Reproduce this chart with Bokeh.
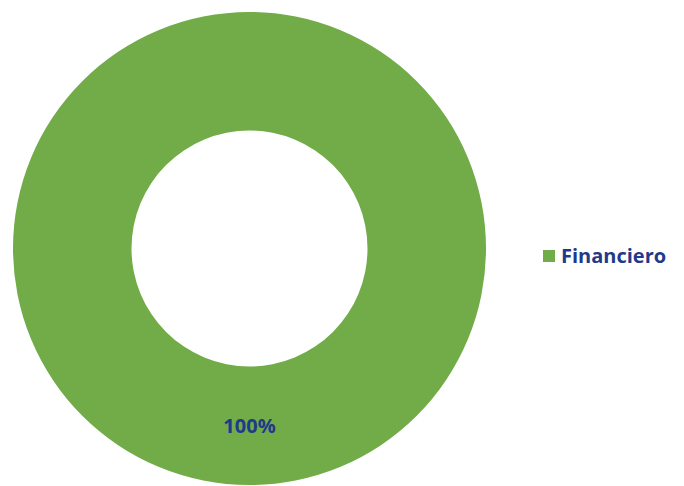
import math
from bokeh.plotting import figure
from bokeh.models import ColumnDataSource, Legend, LegendItem, Range1d
from bokeh.core.properties import value
from bokeh.embed import file_html
from bokeh.resources import INLINE

categories = ["Financiero"]
values = [100]
colors = ["#71AC48"]
label_texts = ["100%"]

W, H = 680, 486
cx, cy = 249, 238
r_out, r_in = 236.5, 118

p = figure(width=W, height=H, x_range=Range1d(0, W), y_range=Range1d(0, H),
           output_backend="svg", toolbar_location=None, min_border=0)
p.axis.visible = False
p.grid.visible = False
p.outline_line_color = None
p.background_fill_color = "white"
p.border_fill_color = "white"

total = float(sum(values))
start = math.pi / 2
xs, ys, starts, ends = [], [], [], []
for v in values:
    frac = v / total
    end = start - 2 * math.pi * frac
    mid = (start + end) / 2
    rm = (r_out + r_in) / 2
    xs.append(cx + rm * math.cos(mid))
    ys.append(cy + rm * math.sin(mid))
    starts.append(start)
    ends.append(end)
    start = end

src = ColumnDataSource(dict(x=[cx] * len(values), y=[cy] * len(values),
                            start=starts, end=ends, color=colors, cat=categories))
if len(values) == 1:
    p.annulus(x="x", y="y", inner_radius=r_in, outer_radius=r_out, source=src,
              fill_color="color", line_color=None)
else:
    p.annular_wedge(x="x", y="y", inner_radius=r_in, outer_radius=r_out,
                    start_angle="start", end_angle="end", direction="clock",
                    source=src, fill_color="color", line_color=None)

lab = ColumnDataSource(dict(x=xs, y=ys, t=label_texts))
p.text(x="x", y="y", text="t", source=lab, text_align="center", text_baseline="middle",
       text_font=value("Open Sans"), text_font_style="bold", text_font_size="20px",
       text_color="#1F3A8A")

# invisible zero-size marks that only carry the legend swatches
leg_r = p.rect(x="x", y="y", width=0, height=0, source=src, fill_color="color",
               line_color=None)
items = [LegendItem(label=c, renderers=[leg_r], index=i) for i, c in enumerate(categories)]

legend = Legend(items=items, location=(541, 217), padding=0, margin=0,
                glyph_width=15, glyph_height=15, label_standoff=5,
                label_text_font="Open Sans", label_text_font_style="bold",
                label_text_font_size="20px", label_text_color="#1F3A8A",
                background_fill_alpha=0, border_line_color=None)
p.add_layout(legend, "center")

open("out.html", "w").write(file_html(p, INLINE))
